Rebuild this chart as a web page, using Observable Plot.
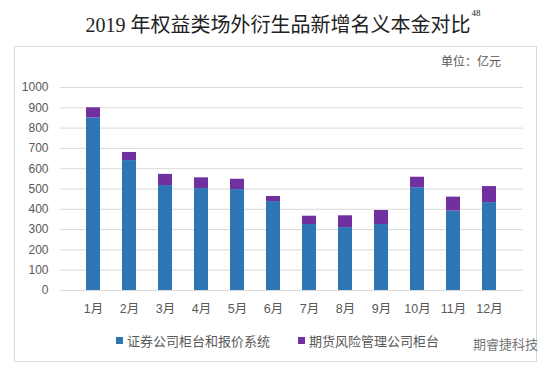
<!DOCTYPE html>
<html><head><meta charset="utf-8">
<script src="https://cdn.jsdelivr.net/npm/d3@7"></script>
<script src="https://cdn.jsdelivr.net/npm/@observablehq/plot@0.6"></script>
<style>
body{margin:0;background:#fff;}
#wrap{position:relative;width:554px;height:370px;overflow:hidden;font-family:"Liberation Sans","Noto Sans CJK SC",sans-serif;background:#fff;}
#frame{position:absolute;left:14px;top:46px;width:523px;height:316px;border:1px solid #d9d9d9;box-sizing:border-box;}
#title{position:absolute;left:6px;top:9px;width:554px;text-align:center;font-family:"Liberation Serif","Noto Sans CJK SC",serif;font-size:20px;color:#222;white-space:nowrap;}
#title sup{font-size:9px;vertical-align:top;position:relative;top:-1px;margin-left:1px;}
#unit{position:absolute;left:441px;top:52px;font-size:12px;color:#595959;font-family:"Noto Sans CJK SC",sans-serif;}
#chart{position:absolute;left:0;top:0;}
.leg{position:absolute;top:331px;font-size:13px;color:#595959;font-family:"Noto Sans CJK SC",sans-serif;white-space:nowrap;display:flex;align-items:center;}
.sw{display:inline-block;width:7px;height:7px;margin-right:4px;}
#wm{position:absolute;left:473px;top:334px;font-size:13px;color:#777;font-family:"Noto Sans CJK SC",sans-serif;}
</style></head>
<body>
<div id="wrap">
  <div id="frame"></div>
  <div id="chart"></div>
  <div id="title">2019 年权益类场外衍生品新增名义本金对比<sup>48</sup></div>
  <div id="unit">单位：亿元</div>
  <div id="legend"></div>
  <div id="wm">期睿捷科技</div>
</div>
<script>
const months = ["1月","2月","3月","4月","5月","6月","7月","8月","9月","10月","11月","12月"];
const securities = [850, 640, 517, 502, 497, 438, 325, 310, 325, 506, 391, 433];
const futures = [50, 40, 55, 53, 51, 25, 41, 58, 69, 52, 69, 79];
const seriesNames = ["证券公司柜台和报价系统", "期货风险管理公司柜台"];
const seriesColors = ["#2E75B6", "#7030A0"];
const yTicks = [0,100,200,300,400,500,600,700,800,900,1000];

const data = months.flatMap((m, i) => [
  {month: m, series: seriesNames[0], value: securities[i]},
  {month: m, series: seriesNames[1], value: futures[i]}
]);

const chart = Plot.plot({
  width: 554, height: 370,
  marginTop: 87, marginBottom: 80, marginLeft: 60, marginRight: 31,
  style: {background: "transparent", fontSize: "12px", fontFamily: "'Liberation Sans','Noto Sans CJK SC',sans-serif", color: "#595959"},
  x: {domain: months, padding: 0.61, label: null},
  y: {domain: [0, 1000], label: null},
  color: {domain: seriesNames, range: seriesColors},
  marks: [
    Plot.gridY(yTicks, {stroke: "#d9d9d9", strokeOpacity: 1}),
    Plot.barY(data, {x: "month", y: "value", fill: "series", order: seriesNames}),
    Plot.axisY(yTicks, {tickSize: 0, tickPadding: 12, label: null, fontSize: 12, tickFormat: d => String(d)}),
    Plot.axisX({tickSize: 0, tickPadding: 14, label: null, fontSize: 12.5})
  ]
});
document.getElementById("chart").appendChild(chart);

const legend = document.getElementById("legend");
const legX = [116, 298];
seriesNames.forEach((s, i) => {
  const d = document.createElement("div");
  d.className = "leg";
  d.style.left = legX[i] + "px";
  d.innerHTML = `<span class="sw" style="background:${seriesColors[i]}"></span>${s}`;
  legend.appendChild(d);
});
</script>
</body></html>
